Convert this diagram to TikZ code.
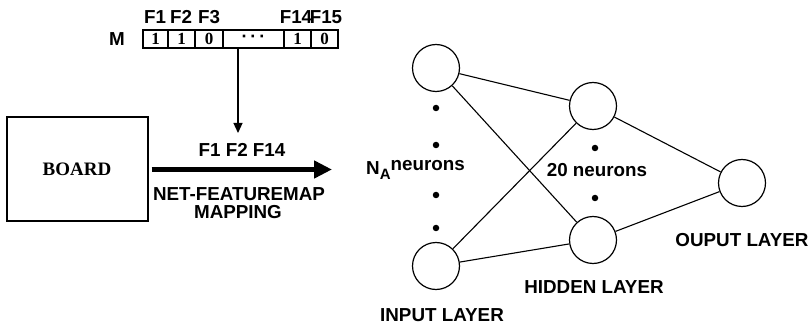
\documentclass[tikz,border=0pt]{standalone}
\usepackage{fontspec}
\setmainfont{Liberation Sans}
\newfontfamily\serifb{Liberation Serif}
\usetikzlibrary{arrows.meta}
\begin{document}
\begin{tikzpicture}[x=1pt,y=-1pt,
  lbl/.style={font=\fontsize{18.8}{18.8}\selectfont\bfseries, inner sep=0pt},
  cell/.style={draw, line width=1.2pt, minimum height=18pt, inner sep=0pt, font=\serifb\fontsize{17}{17}\selectfont\bfseries},
  neuron/.style={draw, circle, line width=1.2pt, minimum size=47pt, inner sep=0pt},
  conn/.style={line width=1.1pt},
  ndot/.style={circle, fill, inner sep=0pt, minimum size=6.5pt}]
\useasboundingbox (0,0) rectangle (812,326);

% feature map row
\node[lbl] (m) at (117,39) {M};
\node[cell, minimum width=25pt] (c1) at (155.5,39) {1};
\node[cell, minimum width=27pt] (c2) at (181.5,39) {1};
\node[cell, minimum width=28pt] (c3) at (209,39) {0};
\node[cell, minimum width=61pt, font=\fontsize{18}{18}\selectfont\bfseries] (c4) at (253.5,39) {·\hspace{3pt}·\hspace{3pt}·};
\node[cell, minimum width=27pt] (c5) at (297.5,39) {1};
\node[cell, minimum width=27pt] (c6) at (324.5,39) {0};
\node[lbl] (f1) at (155,17) {F1};
\node[lbl] (f2) at (181,17) {F2};
\node[lbl] (f3) at (209,17) {F3};
\node[lbl] (f14) at (296,17) {F14};
\node[lbl] (f15) at (326,17) {F15};

% down arrow
\coordinate (dx) at (238,0);
\coordinate (de) at (238,133);
\draw[line width=1.2pt, -{Triangle[length=10pt,width=9pt]}] (c4.south -| dx) -- (de);

% board
\node[draw, line width=1.2pt, minimum width=141pt, minimum height=104pt, inner sep=0pt] (board) at (77.5,169) {};
\node[font=\serifb\fontsize{19}{19}\selectfont\bfseries, inner sep=0pt] (boardtxt) at (77,169.5) {BOARD};

% thick arrow
\coordinate (ta) at (0,169.5);
\coordinate (tb) at (332,169.5);
\draw[line width=5pt, -{Triangle[length=18pt,width=17pt]}] ([xshift=3pt]board.east |- ta) -- (tb);
\node[lbl] (sel) at (242,150) {F1 F2 F14};
\node[lbl] (map1) at (239,194) {NET-FEATUREMAP};
\node[lbl] (map2) at (238,212) {MAPPING};

% network
\node[neuron] (i1) at (436,68) {};
\node[neuron] (i2) at (436,266) {};
\node[neuron] (h1) at (593,106) {};
\node[neuron] (h2) at (593,240) {};
\node[neuron] (o1) at (742,183) {};

\node[ndot] (d1) at (436,108) {};
\node[ndot] (d2) at (436,145) {};
\node[ndot] (d3) at (436,195) {};
\node[ndot] (d4) at (436,228) {};
\node[ndot] (d5) at (595,148) {};
\node[ndot] (d6) at (595,198) {};

\draw[conn] (i1) -- (h1);
\draw[conn] (i1) -- (h2);
\draw[conn] (i2) -- (h1);
\draw[conn] (i2) -- (h2);
\draw[conn] (h1) -- (o1);
\draw[conn] (h2) -- (o1);

\node[lbl, anchor=west] (na) at (366,170) {N\raisebox{-5pt}{\fontsize{15}{15}\selectfont A}\raisebox{4pt}{neurons}};
\node[lbl] (hn) at (597,170) {20 neurons};
\node[lbl] (il) at (442,315) {INPUT LAYER};
\node[lbl] (hl) at (594,287) {HIDDEN LAYER};
\node[lbl] (ol) at (742,240) {OUPUT LAYER};
\end{tikzpicture}
\end{document}
